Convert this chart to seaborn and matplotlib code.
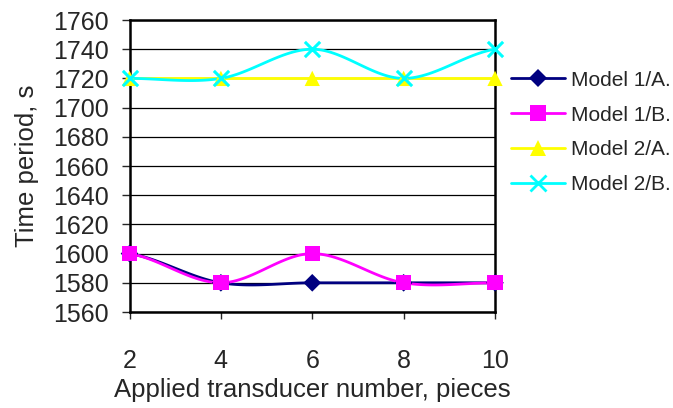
import numpy as np
import pandas as pd
import seaborn as sns
import matplotlib.pyplot as plt
from matplotlib.lines import Line2D

# transducer numbers on the x axis
transducers = [2, 4, 6, 8, 10]

# measured time periods, s
model_1a = [1600, 1580, 1580, 1580, 1580]
model_1b = [1600, 1580, 1600, 1580, 1580]
model_2a = [1720, 1720, 1720, 1720, 1720]
model_2b = [1720, 1720, 1740, 1720, 1740]

series_names = ['Model 1/A.', 'Model 1/B.', 'Model 2/A.', 'Model 2/B.']
series_values = [model_1a, model_1b, model_2a, model_2b]
colours = ['#000080', '#FF00FF', '#FFFF00', '#00FFFF']
markers = ['D', 's', '^', 'x']
marker_sizes = [9, 11, 11, 11]

sns.set_style('white')
plt.rcParams['font.family'] = ['Liberation Sans', 'DejaVu Sans']


# Excel style smoothed line (Catmull-Rom through the data points)
def smooth_line(xs, ys, n=30):
    xs = np.asarray(xs, dtype=float)
    ys = np.asarray(ys, dtype=float)
    px = np.concatenate([[2 * xs[0] - xs[1]], xs, [2 * xs[-1] - xs[-2]]])
    py = np.concatenate([[ys[0]], ys, [ys[-1]]])
    out_x, out_y = [], []
    t = np.linspace(0, 1, n)
    for i in range(1, len(px) - 2):
        for p, out in ((px, out_x), (py, out_y)):
            p0, p1, p2, p3 = p[i - 1], p[i], p[i + 1], p[i + 2]
            out.extend(0.5 * ((2 * p1) + (-p0 + p2) * t
                              + (2 * p0 - 5 * p1 + 4 * p2 - p3) * t ** 2
                              + (-p0 + 3 * p1 - 3 * p2 + p3) * t ** 3))
    return np.array(out_x), np.array(out_y)


fig = plt.figure(figsize=(6.73, 4.08), dpi=100)
ax = fig.add_axes([129.5 / 673, 1 - 312 / 408, (495 - 129.5) / 673, 292 / 408])

for name, vals, col, mk, ms in zip(series_names, series_values, colours, markers, marker_sizes):
    sx, sy = smooth_line(transducers, vals)
    line_df = pd.DataFrame({'x': sx, 'y': sy})
    sns.lineplot(data=line_df, x='x', y='y', ax=ax, color=col, lw=2, sort=False,
                 estimator=None, clip_on=False, zorder=3)
    pts = pd.DataFrame({'x': transducers, 'y': vals})
    sns.scatterplot(data=pts, x='x', y='y', ax=ax, color=col, marker=mk, s=ms ** 2,
                    linewidth=2.2 if mk == 'x' else 0, edgecolor=col if mk == 'x' else 'none',
                    clip_on=False, zorder=4)

ax.set_xlim(2, 10)
ax.set_ylim(1560, 1760)
ax.set_xticks(transducers)
ax.set_yticks(np.arange(1560, 1761, 20))
ax.grid(axis='y', color='black', lw=0.9)
ax.grid(axis='x', visible=False)
for sp in ax.spines.values():
    sp.set_visible(True)
    sp.set_color('black')
    sp.set_linewidth(1.8)
ax.tick_params(axis='y', direction='out', length=6, width=1, left=True, labelsize=18, pad=9)
ax.tick_params(axis='x', direction='out', length=5, width=1, bottom=True, labelsize=18, pad=22)
ax.set_xlabel('Applied transducer number, pieces', fontsize=18.5)
ax.xaxis.set_label_coords(0.5, -0.225)
ax.set_ylabel('Time period, s', fontsize=18.5, labelpad=10)

handles = [Line2D([0], [0], color=c, lw=2, marker=m, markersize=s,
                  markeredgewidth=2 if m == 'x' else 0)
           for c, m, s in zip(colours, markers, marker_sizes)]
ax.legend(handles, series_names, loc='upper left', bbox_to_anchor=(1.02, 0.855),
          frameon=False, fontsize=15, handlelength=2.6, handletextpad=0.3,
          labelspacing=0.76, borderaxespad=0)

fig.savefig('out.png', dpi=100)
